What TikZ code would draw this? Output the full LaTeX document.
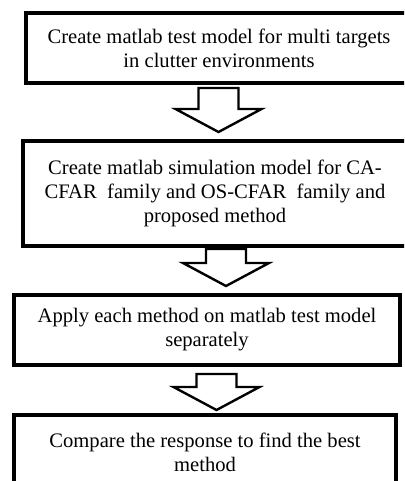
\documentclass[tikz,border=0pt]{standalone}
\usepackage{fontspec}
\setmainfont{Liberation Serif}
\usetikzlibrary{calc}
\tikzset{
  stepbox/.style={draw, line width=4pt, rectangle, inner sep=0pt, align=center,
    font=\fontsize{20.6}{24}\selectfont},
  arrowline/.style={draw, line width=2.4pt, line join=miter}
}
% hollow block arrow: upper node, lower node, centre x, gap below upper node, gap above lower node
\newcommand\flowarrow[5]{%
  \draw[arrowline] let \p1=(#1.south), \p2=(#2.north) in
    (#3pt-20pt,\y1-#4pt) -- (#3pt-20pt,\y2+#5pt+23pt) -- (#3pt-43pt,\y2+#5pt+23pt)
    -- (#3pt,\y2+#5pt) -- (#3pt+43pt,\y2+#5pt+23pt) -- (#3pt+20pt,\y2+#5pt+23pt)
    -- (#3pt+20pt,\y1-#4pt) -- cycle;}
\begin{document}
\begin{tikzpicture}[x=1pt, y=-1pt]
  \useasboundingbox (0,0) rectangle (404,481);
  \clip (0,0) rectangle (404,481);
  \node[stepbox, minimum width=386pt, minimum height=70pt] (b1) at (219,48)
    {Create matlab test model for multi targets\\in clutter environments};
  \node[stepbox, minimum width=384pt, minimum height=105pt] (b2) at (215,193.5)
    {Create matlab simulation model for CA-\\CFAR\ \ family and OS-CFAR\ \ family and\\proposed method};
  \node[stepbox, minimum width=386pt, minimum height=70pt] (b3) at (207,330)
    {Apply each method on matlab test model\\separately};
  \node[stepbox, minimum width=382pt, minimum height=74pt] (b4) at (205,452)
    {Compare the response to find the best\\method};
  \flowarrow{b1}{b2}{218.5}{3}{7}
  \flowarrow{b2}{b3}{226}{1}{7}
  \flowarrow{b3}{b4}{216.5}{7}{3}
\end{tikzpicture}
\end{document}
